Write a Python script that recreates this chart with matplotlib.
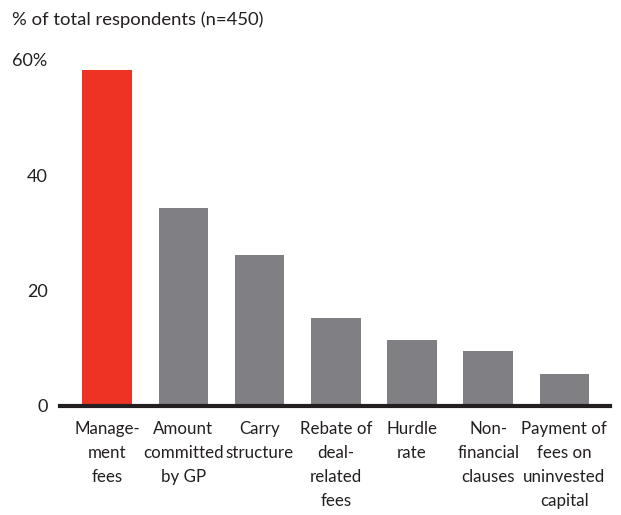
import matplotlib
matplotlib.use('Agg')
import matplotlib.pyplot as plt
import numpy as np

# data
categories = [
    "Manage-\nment\nfees",
    "Amount\ncommitted\nby GP",
    "Carry\nstructure",
    "Rebate of\ndeal-\nrelated\nfees",
    "Hurdle\nrate",
    "Non-\nfinancial\nclauses",
    "Payment of\nfees on\nuninvested\ncapital",
]
values = [58.2, 34.3, 26.2, 15.3, 11.5, 9.5, 5.5]
bar_colors = ["#EE3224"] + ["#808084"] * 6
y_ticks = [0, 20, 40, 60]
y_tick_labels = ["0", "20", "40", "60%"]

TEXT = "#231F20"
plt.rcParams['font.family'] = ['Lato', 'DejaVu Sans']

fig = plt.figure(figsize=(6.21, 5.15), dpi=100)
ax = fig.add_axes([60 / 621, 109 / 515, 550 / 621, 346 / 515])

x = np.arange(len(categories))
ax.bar(x, values, width=0.65, color=bar_colors, zorder=1)

ax.set_xlim(-0.62, 6.6)
ax.set_ylim(0, 60)

ax.set_yticks(y_ticks)
ax.set_yticklabels(y_tick_labels, fontsize=13, color=TEXT)
ax.set_xticks(x)
ax.set_xticklabels(categories, fontsize=12.2, color=TEXT, linespacing=1.62, va="top")
ax.tick_params(axis="both", length=0)
ax.tick_params(axis="y", pad=9)
ax.tick_params(axis="x", pad=10.5)

for side in ["top", "right", "left"]:
    ax.spines[side].set_visible(False)
ax.spines["bottom"].set_linewidth(3)
ax.spines["bottom"].set_color(TEXT)
ax.spines["bottom"].set_zorder(3)

fig.text(12 / 621, 1 - 20 / 515, "% of total respondents (n=450)",
         fontsize=13.3, color=TEXT, ha="left", va="center")

fig.savefig("out.png", dpi=100)
